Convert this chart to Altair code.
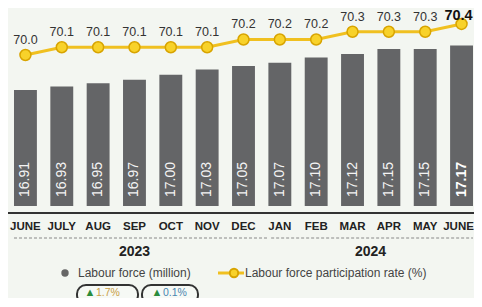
import altair as alt
import pandas as pd

months = ["JUNE", "JULY", "AUG", "SEP", "OCT", "NOV", "DEC", "JAN", "FEB", "MAR", "APR", "MAY", "JUNE"]
years = [2023] * 7 + [2024] * 6
labour_force = [16.91, 16.93, 16.95, 16.97, 17.00, 17.03, 17.05, 17.07, 17.10, 17.12, 17.15, 17.15, 17.17]
lfpr = [70.0, 70.1, 70.1, 70.1, 70.1, 70.1, 70.2, 70.2, 70.2, 70.3, 70.3, 70.3, 70.4]
year_labels = ["2023", "2024"]
legend_labels = ["Labour force (million)", "Labour force participation rate (%)"]
badge_values = ["1.7%", "0.1%"]

FONT = "Liberation Sans"
keys = [f"{m} {y}" for m, y in zip(months, years)]
n = len(keys)
df = pd.DataFrame({
    "key": keys,
    "month": months,
    "lf": labour_force,
    "rate": lfpr,
    "last": [i == n - 1 for i in range(n)],
})
df["lf_label"] = df["lf"].map(lambda v: f"{v:.2f}")
df["rate_label"] = df["rate"].map(lambda v: f"{v:.1f}")

xscale = alt.Scale(domain=keys, paddingInner=0.37, paddingOuter=0.0963, align=0.857)
xenc = alt.X("key:N", scale=xscale, axis=None)
ybar = alt.Y("lf:Q", scale=alt.Scale(domain=[16.233, 17.389], zero=False, nice=False), axis=None)
yrate = alt.Y("rate:Q", scale=alt.Scale(domain=[68.052, 70.606], zero=False, nice=False), axis=None)

base = alt.Chart(df)
one = pd.DataFrame({"k": [0]})

bars = base.mark_bar(color="#646567", clip=True).encode(x=xenc, y=ybar, y2=alt.value(198))
bar_txt = base.transform_filter("!datum.last").mark_text(
    angle=270, align="left", baseline="middle", color="#f4f4f4", fontSize=14, font=FONT
).encode(x=xenc, y=alt.value(189), text="lf_label:N")
bar_txt_last = base.transform_filter("datum.last").mark_text(
    angle=270, align="left", baseline="middle", color="#ffffff", fontSize=14, font=FONT, fontWeight="bold"
).encode(x=xenc, y=alt.value(189), text="lf_label:N")

line = base.mark_line(color="#f0c020", strokeWidth=3).encode(x=xenc, y=yrate)
pts = base.mark_point(filled=True, size=120, fill="#f8d22a", stroke="#d8a400", strokeWidth=1.5, opacity=1).encode(x=xenc, y=yrate)
rate_txt = base.transform_filter("!datum.last").mark_text(
    dy=-15, fontSize=12.5, color="#333333", font=FONT
).encode(x=xenc, y=yrate, text="rate_label:N")
rate_txt_last = base.transform_filter("datum.last").mark_text(
    dy=-8, dx=-3, fontSize=14.5, fontWeight="bold", color="#111111", font=FONT
).encode(x=xenc, y=yrate, text="rate_label:N")

baseline = alt.Chart(one).mark_rule(color="#333333", strokeWidth=2).encode(
    x=alt.value(0), x2=alt.value(466), y=alt.value(205))

month_txt = base.transform_filter("!datum.last").mark_text(
    fontSize=11.5, fontWeight="bold", color="#222222", font=FONT, baseline="middle").encode(
    x=xenc, y=alt.value(219), text="month:N")
month_txt_last = base.transform_filter("datum.last").mark_text(
    fontSize=11.5, fontWeight="bold", color="#222222", font=FONT, baseline="middle", dx=-3).encode(
    x=xenc, y=alt.value(219), text="month:N")

span_df = pd.DataFrame({"key": ["JUNE 2023"], "key2": ["JAN 2024"]})
span_df2 = pd.DataFrame({"key": ["JAN 2024"], "key2": ["JUNE 2024"]})
span1 = alt.Chart(span_df).mark_rule(color="#888888", strokeWidth=1, strokeDash=[3, 2]).encode(
    x=alt.X("key:N", scale=xscale, axis=None, bandPosition=0),
    x2=alt.X2("key2", bandPosition=0), y=alt.value(230))
span2 = alt.Chart(span_df2).mark_rule(color="#888888", strokeWidth=1, strokeDash=[3, 2]).encode(
    x=alt.X("key:N", scale=xscale, axis=None, bandPosition=0.12),
    x2=alt.X2("key2", bandPosition=1), y=alt.value(230))

y1 = alt.Chart(pd.DataFrame({"key": ["SEP 2023"], "t": [year_labels[0]]})).mark_text(
    fontSize=14, fontWeight="bold", color="#222222", font=FONT).encode(
    x=alt.X("key:N", scale=xscale, axis=None), y=alt.value(244), text="t:N")
y2 = alt.Chart(pd.DataFrame({"key": ["MAR 2024"], "t": [year_labels[1]]})).mark_text(
    fontSize=14, fontWeight="bold", color="#222222", font=FONT, dx=18).encode(
    x=alt.X("key:N", scale=xscale, axis=None), y=alt.value(244), text="t:N")

leg_dot = alt.Chart(one).mark_circle(color="#666666", size=55, opacity=1).encode(x=alt.value(57), y=alt.value(265))
leg_t1 = alt.Chart(pd.DataFrame({"t": [legend_labels[0]]})).mark_text(
    align="left", baseline="middle", fontSize=12, color="#444444", font=FONT).encode(
    x=alt.value(70), y=alt.value(265), text="t:N")
leg_line = alt.Chart(one).mark_rule(color="#f0c020", strokeWidth=3).encode(
    x=alt.value(210), x2=alt.value(236), y=alt.value(265))
leg_pt = alt.Chart(one).mark_point(filled=True, size=70, fill="#f8d22a", stroke="#d8a400", opacity=1).encode(
    x=alt.value(226), y=alt.value(265))
leg_t2 = alt.Chart(pd.DataFrame({"t": [legend_labels[1]]})).mark_text(
    align="left", baseline="middle", fontSize=12, color="#444444", font=FONT).encode(
    x=alt.value(237), y=alt.value(265), text="t:N")

badge1 = alt.Chart(one).mark_rect(cornerRadius=9, fill="#ffffff", fillOpacity=0.3, stroke="#333333", strokeWidth=2).encode(
    x=alt.value(69), x2=alt.value(130), y=alt.value(277), y2=alt.value(296))
badge2 = alt.Chart(one).mark_rect(cornerRadius=9, fill="#ffffff", fillOpacity=0.3, stroke="#333333", strokeWidth=2).encode(
    x=alt.value(134), x2=alt.value(190), y=alt.value(277), y2=alt.value(296))
tri1 = alt.Chart(pd.DataFrame({"t": ["▲"]})).mark_text(fontSize=11, color="#2a8c3c", baseline="middle").encode(
    x=alt.value(82), y=alt.value(285), text="t:N")
bt1 = alt.Chart(pd.DataFrame({"t": [badge_values[0]]})).mark_text(
    align="left", baseline="middle", fontSize=10.5, color="#c9a046", font=FONT).encode(
    x=alt.value(88), y=alt.value(285), text="t:N")
tri2 = alt.Chart(pd.DataFrame({"t": ["▲"]})).mark_text(fontSize=11, color="#2a8c3c", baseline="middle").encode(
    x=alt.value(149), y=alt.value(285), text="t:N")
bt2 = alt.Chart(pd.DataFrame({"t": [badge_values[1]]})).mark_text(
    align="left", baseline="middle", fontSize=10.5, color="#4a86b0", font=FONT).encode(
    x=alt.value(155), y=alt.value(285), text="t:N")

chart = alt.layer(
    bars, bar_txt, bar_txt_last, line, pts, rate_txt, rate_txt_last,
    baseline, month_txt, month_txt_last, span1, span2, y1, y2,
    leg_dot, leg_t1, leg_line, leg_pt, leg_t2,
    badge1, badge2, tri1, bt1, tri2, bt2,
).resolve_scale(y="independent").properties(
    width=466, height=198,
    autosize=alt.AutoSizeParams(type="none"),
    padding={"left": 0, "right": 0, "top": 0, "bottom": 92},
    background="#f3f6f1",
).configure_view(stroke=None)

chart.save("out.html", embed_options={"renderer": "svg", "actions": False})
